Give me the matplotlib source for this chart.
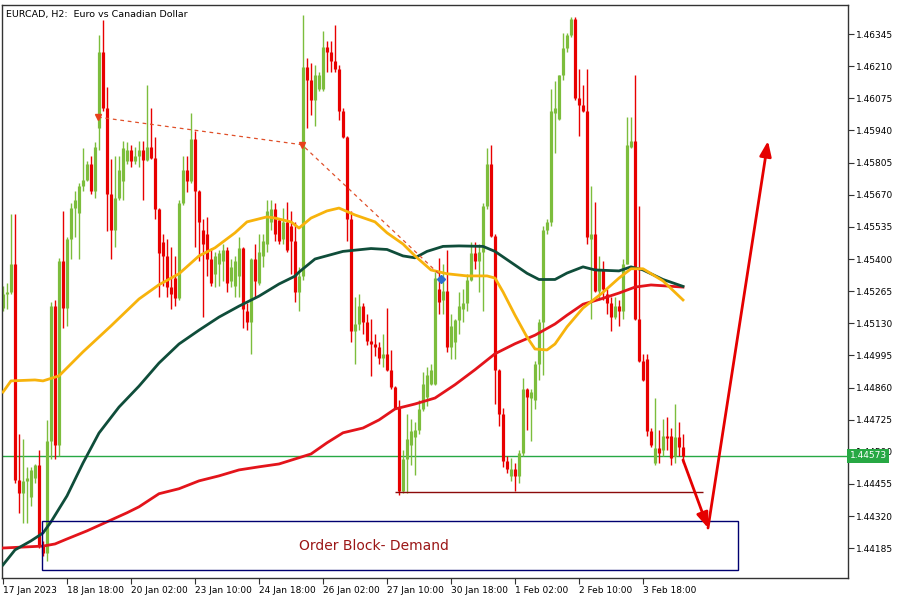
import matplotlib
matplotlib.use("Agg")
import matplotlib.pyplot as plt
import matplotlib.patches as mpatches

# EURCAD H2 candles (bar index 0..170)
opens = [
    1.45194, 1.45251, 1.45260, 1.45381, 1.44471, 1.44419, 1.44466, 1.44401, 1.44480, 1.44536,
    1.44200, 1.44163, 1.44634, 1.45204, 1.44620, 1.45391, 1.45194, 1.45484, 1.45615, 1.45592,
    1.45708, 1.45732, 1.45801, 1.45685, 1.45951, 1.46268, 1.46035, 1.45671, 1.45521, 1.45657,
    1.45727, 1.45811, 1.45858, 1.45811, 1.45834, 1.45858, 1.45816, 1.45872, 1.45825, 1.45611,
    1.45470, 1.45414, 1.45284, 1.45321, 1.45237, 1.45634, 1.45774, 1.45727, 1.45904, 1.45685,
    1.45521, 1.45507, 1.45400, 1.45335, 1.45381, 1.45391, 1.45437, 1.45307, 1.45288, 1.45330,
    1.45447, 1.45181, 1.45134, 1.45400, 1.45298, 1.45414, 1.45461, 1.45554, 1.45611, 1.45564,
    1.45484, 1.45554, 1.45540, 1.45474, 1.45260, 1.45330, 1.46208, 1.46152, 1.46068, 1.46115,
    1.46115, 1.46292, 1.46268, 1.46231, 1.46199, 1.46021, 1.45914, 1.45569, 1.45097, 1.45125,
    1.45204, 1.45134, 1.45055, 1.45045, 1.45031, 1.44985, 1.45003, 1.44933, 1.44863, 1.44774,
    1.44424, 1.44559, 1.44620, 1.44653, 1.44681, 1.44770, 1.44821, 1.44877, 1.44877, 1.45274,
    1.45227, 1.45265, 1.45031, 1.45050, 1.45143, 1.45190, 1.45214, 1.45311, 1.45424, 1.45391,
    1.45428, 1.45624, 1.45797, 1.45498, 1.44933, 1.44747, 1.44550, 1.44489, 1.44517, 1.44489,
    1.44583, 1.44854, 1.44817, 1.44807, 1.44957, 1.45134, 1.45521, 1.45554, 1.46012, 1.45988,
    1.46171, 1.46287, 1.46339, 1.46409, 1.46077, 1.46045, 1.46021, 1.45484, 1.45507, 1.45265,
    1.45353, 1.45251, 1.45214, 1.45158, 1.45204, 1.45181, 1.45381, 1.45872, 1.45895, 1.45148,
    1.44971, 1.44980, 1.44676, 1.44541, 1.44606, 1.44597, 1.44657, 1.44657, 1.44573, 1.44653,
    1.44611,
]
highs = [
    1.45288, 1.45298, 1.45587, 1.45587, 1.44667, 1.44644, 1.44527, 1.44527, 1.44540, 1.44597,
    1.44214, 1.44723, 1.45218, 1.45227, 1.45405, 1.45601, 1.45493, 1.45634, 1.45685, 1.45718,
    1.45867, 1.45811, 1.45834, 1.45890, 1.46339, 1.46404, 1.46124, 1.45820, 1.45834, 1.45834,
    1.45895, 1.45890, 1.45881, 1.45872, 1.45895, 1.45895, 1.46129, 1.46035, 1.45914, 1.45615,
    1.45507, 1.45484, 1.45451, 1.45414, 1.45648, 1.45834, 1.45834, 1.46012, 1.45937, 1.45690,
    1.45569, 1.45578, 1.45447, 1.45428, 1.45437, 1.45461, 1.45451, 1.45400, 1.45414, 1.45493,
    1.45451, 1.45214, 1.45405, 1.45461, 1.45507, 1.45507, 1.45648, 1.45648, 1.45634, 1.45569,
    1.45615, 1.45638, 1.45601, 1.45554, 1.45367, 1.46427, 1.46245, 1.46222, 1.46217, 1.46185,
    1.46357, 1.46315, 1.46315, 1.46381, 1.46217, 1.46035, 1.45918, 1.45601, 1.45241, 1.45251,
    1.45214, 1.45167, 1.45148, 1.45087, 1.45050, 1.45087, 1.45194, 1.45017, 1.44868, 1.44807,
    1.44597, 1.44751, 1.44728, 1.44714, 1.44807, 1.44924, 1.44947, 1.44961, 1.45344, 1.45405,
    1.45377, 1.45437, 1.45167, 1.45148, 1.45260, 1.45274, 1.45335, 1.45470, 1.45470, 1.45461,
    1.45634, 1.45867, 1.45881, 1.45507, 1.44940, 1.44774, 1.44573, 1.44564, 1.44541, 1.44597,
    1.44900, 1.44860, 1.44854, 1.44971, 1.45148, 1.45540, 1.45569, 1.46115, 1.46147, 1.46175,
    1.46348, 1.46348, 1.46418, 1.46418, 1.46199, 1.46129, 1.46199, 1.45708, 1.45638, 1.45414,
    1.45391, 1.45274, 1.45241, 1.45241, 1.45227, 1.45400, 1.45998, 1.45998, 1.46175, 1.45624,
    1.45003, 1.45003, 1.44690, 1.44817, 1.44681, 1.44728, 1.44737, 1.44690, 1.44793, 1.44714,
    1.44667,
]
lows = [
    1.45181, 1.45190, 1.45251, 1.44457, 1.44331, 1.44293, 1.44293, 1.44364, 1.44461, 1.44186,
    1.44153, 1.44130, 1.44559, 1.44559, 1.44573, 1.45111, 1.45120, 1.45400, 1.45493, 1.45400,
    1.45685, 1.45727, 1.45671, 1.45657, 1.45858, 1.46021, 1.45517, 1.45400, 1.45451, 1.45648,
    1.45648, 1.45801, 1.45788, 1.45801, 1.45788, 1.45648, 1.45811, 1.45820, 1.45569, 1.45241,
    1.45288, 1.45241, 1.45190, 1.45204, 1.45227, 1.45625, 1.45680, 1.45718, 1.45451, 1.45391,
    1.45158, 1.45330, 1.45288, 1.45284, 1.45288, 1.45307, 1.45260, 1.45284, 1.45241, 1.45241,
    1.45111, 1.45101, 1.45003, 1.45237, 1.45290, 1.45367, 1.45428, 1.45521, 1.45474, 1.45461,
    1.45461, 1.45428, 1.45335, 1.45218, 1.45181, 1.45311, 1.45951, 1.46007, 1.45960, 1.46105,
    1.46105, 1.46185, 1.46185, 1.46185, 1.45984, 1.45910, 1.45474, 1.45050, 1.44957, 1.45101,
    1.45087, 1.45040, 1.44910, 1.44994, 1.44957, 1.44947, 1.44930, 1.44854, 1.44770, 1.44410,
    1.44419, 1.44419, 1.44536, 1.44494, 1.44667, 1.44760, 1.44784, 1.44870, 1.44870, 1.45171,
    1.45171, 1.45008, 1.44980, 1.44980, 1.45087, 1.45134, 1.45181, 1.45307, 1.45358, 1.45260,
    1.45181, 1.45611, 1.45493, 1.44793, 1.44700, 1.44527, 1.44503, 1.44466, 1.44424, 1.44457,
    1.44573, 1.44681, 1.44634, 1.44770, 1.44891, 1.44914, 1.45507, 1.45540, 1.45844, 1.45984,
    1.46152, 1.46268, 1.46334, 1.46068, 1.45918, 1.46017, 1.45461, 1.45148, 1.45260, 1.45227,
    1.45227, 1.45167, 1.45097, 1.45148, 1.45120, 1.45148, 1.45377, 1.45865, 1.45143, 1.44967,
    1.44887, 1.44658, 1.44611, 1.44536, 1.44541, 1.44573, 1.44597, 1.44536, 1.44541, 1.44573,
    1.44541,
]
closes = [
    1.45251, 1.45260, 1.45381, 1.44471, 1.44419, 1.44466, 1.44480, 1.44513, 1.44536, 1.44200,
    1.44163, 1.44634, 1.45204, 1.44620, 1.45391, 1.45194, 1.45484, 1.45615, 1.45648, 1.45708,
    1.45732, 1.45801, 1.45685, 1.45872, 1.46268, 1.46035, 1.45671, 1.45521, 1.45657, 1.45774,
    1.45867, 1.45858, 1.45811, 1.45834, 1.45858, 1.45816, 1.45872, 1.45825, 1.45611, 1.45424,
    1.45414, 1.45284, 1.45251, 1.45237, 1.45634, 1.45774, 1.45727, 1.45904, 1.45685, 1.45554,
    1.45461, 1.45400, 1.45298, 1.45414, 1.45424, 1.45437, 1.45298, 1.45367, 1.45391, 1.45447,
    1.45190, 1.45134, 1.45400, 1.45307, 1.45428, 1.45474, 1.45601, 1.45611, 1.45507, 1.45474,
    1.45554, 1.45437, 1.45474, 1.45260, 1.45330, 1.46208, 1.46152, 1.46068, 1.46171, 1.46171,
    1.46292, 1.46268, 1.46231, 1.46199, 1.46021, 1.45914, 1.45569, 1.45097, 1.45125, 1.45204,
    1.45134, 1.45055, 1.45045, 1.45031, 1.44985, 1.45003, 1.44933, 1.44863, 1.44774, 1.44424,
    1.44559, 1.44644, 1.44676, 1.44681, 1.44770, 1.44877, 1.44914, 1.44933, 1.45321, 1.45218,
    1.45265, 1.45031, 1.45120, 1.45143, 1.45204, 1.45214, 1.45311, 1.45424, 1.45391, 1.45428,
    1.45624, 1.45797, 1.45498, 1.44933, 1.44747, 1.44550, 1.44517, 1.44517, 1.44489, 1.44583,
    1.44854, 1.44821, 1.44840, 1.44957, 1.45134, 1.45521, 1.45554, 1.46021, 1.46035, 1.46171,
    1.46287, 1.46339, 1.46409, 1.46077, 1.46045, 1.46021, 1.45493, 1.45507, 1.45265, 1.45358,
    1.45274, 1.45214, 1.45158, 1.45204, 1.45181, 1.45381, 1.45881, 1.45895, 1.45148, 1.44971,
    1.44891, 1.44676, 1.44620, 1.44606, 1.44587, 1.44657, 1.44648, 1.44564, 1.44653, 1.44611,
    1.44573,
]

# moving averages, read at sample bars
ma_fast_bars = [0, 2, 8, 10, 14, 20, 27, 34, 39, 44, 49, 53, 58, 61, 66, 68, 72, 74, 77, 81,
                84, 88, 93, 96, 100, 103, 107, 111, 116, 121, 123, 125, 128, 131, 133, 136,
                138, 141, 145, 150, 154, 157, 160, 165, 170]
ma_fast = [1.44841, 1.44888, 1.44892, 1.44888, 1.44909, 1.45010, 1.45119, 1.45232, 1.45292,
           1.45338, 1.45413, 1.45447, 1.45510, 1.45556, 1.45577, 1.45572, 1.45556, 1.45530,
           1.45572, 1.45602, 1.45614, 1.45585, 1.45556, 1.45510, 1.45463, 1.45413, 1.45354,
           1.45338, 1.45329, 1.45329, 1.45320, 1.45262, 1.45164, 1.45072, 1.45022, 1.45018,
           1.45043, 1.45115, 1.45194, 1.45260, 1.45320, 1.45359, 1.45359, 1.45308, 1.45228]

ma_mid_bars = [0, 3, 7, 10, 12, 16, 20, 24, 29, 34, 39, 44, 49, 54, 59, 64, 69, 73, 74, 78,
               85, 92, 96, 100, 103, 106, 110, 114, 120, 123, 127, 131, 134, 138, 141, 145,
               148, 154, 157, 160, 165, 170]
ma_mid = [1.44115, 1.44178, 1.44216, 1.44249, 1.44296, 1.44405, 1.44543, 1.44669, 1.44778,
          1.44866, 1.44963, 1.45043, 1.45101, 1.45156, 1.45202, 1.45244, 1.45295, 1.45328,
          1.45345, 1.45400, 1.45432, 1.45444, 1.45440, 1.45413, 1.45405, 1.45432, 1.45453,
          1.45455, 1.45453, 1.45432, 1.45386, 1.45340, 1.45314, 1.45314, 1.45341, 1.45367,
          1.45354, 1.45350, 1.45367, 1.45354, 1.45314, 1.45285]

ma_slow_bars = [0, 10, 13, 16, 21, 26, 31, 34, 39, 44, 49, 54, 59, 64, 69, 73, 77, 81, 85,
                90, 94, 98, 103, 108, 113, 118, 123, 128, 133, 138, 141, 145, 150, 154, 158,
                162, 170]
ma_slow = [1.44186, 1.44194, 1.44203, 1.44224, 1.44258, 1.44296, 1.44334, 1.44359, 1.44414,
           1.44435, 1.44468, 1.44489, 1.44514, 1.44527, 1.44539, 1.44560, 1.44581, 1.44628,
           1.44670, 1.44690, 1.44724, 1.44770, 1.44791, 1.44816, 1.44872, 1.44935, 1.45002,
           1.45044, 1.45080, 1.45127, 1.45164, 1.45210, 1.45235, 1.45257, 1.45282, 1.45291,
           1.45282]

# chart objects
trend_bars = [23.75, 74.75, 109.0]
trend_prices = [1.45996, 1.45880, 1.45337]
bid_price = 1.44573
support_price = 1.44421
support_bars = (98, 175)
ob_bars = (9.8, 183.75)
ob_prices = (1.44093, 1.44299)
arrow_pts = [(170, 1.44556), (176.25, 1.44270), (191.25, 1.45896)]

xtick_bars = [0, 16, 32, 48, 64, 80, 96, 112, 128, 144, 160]
xtick_labels = ["17 Jan 2023", "18 Jan 18:00", "20 Jan 02:00", "23 Jan 10:00",
                "24 Jan 18:00", "26 Jan 02:00", "27 Jan 10:00", "30 Jan 18:00",
                "1 Feb 02:00", "2 Feb 10:00", "3 Feb 18:00"]
ytick_prices = [1.44185, 1.44320, 1.44455, 1.44590, 1.44725, 1.44860, 1.44995, 1.45130,
                1.45265, 1.45400, 1.45535, 1.45670, 1.45805, 1.45940, 1.46075, 1.46210,
                1.46345]

BULL = "#7cbd3c"
BEAR = "#e80000"
FS = 6.5

fig = plt.figure(figsize=(9, 6), dpi=100)
ax = fig.add_axes([2 / 900, 22 / 600, 846 / 900, 573 / 600])
ax.set_xlim(-0.25, 211.25)
ax.set_ylim(1.44060, 1.46467)

# candles: thin wick plus 3px body
n = min(len(opens), len(highs), len(lows), len(closes))
for i in range(n):
    o, h, l, c = opens[i], highs[i], lows[i], closes[i]
    col = BULL if c >= o else BEAR
    ax.vlines(i, l, h, color=col, linewidth=1.0, zorder=2)
    top, bot = max(o, c), min(o, c)
    if top - bot < 0.00004:
        top = bot + 0.00004
    ax.vlines(i, bot, top, color=col, linewidth=2.3, zorder=2, capstyle="butt")

ax.plot(ma_slow_bars, ma_slow, color="#e3141b", linewidth=2, zorder=3)
ax.plot(ma_mid_bars, ma_mid, color="#0f4d3a", linewidth=2, zorder=3)
ax.plot(ma_fast_bars, ma_fast, color="#f7b30c", linewidth=2, zorder=3)

# bid line and support
ax.axhline(bid_price, color="#27a844", linewidth=1, zorder=1)
ax.hlines(support_price, support_bars[0], support_bars[1], color="#8b0a0a", linewidth=1, zorder=3)

# dashed trendline with markers
ax.plot(trend_bars, trend_prices, color="#e0502a", linewidth=0.9, linestyle=(0, (3, 3)), zorder=3)
ax.plot(trend_bars[:2], trend_prices[:2], linestyle="none", marker="v", markersize=5,
        color="#e8401a", zorder=4)
ax.plot(trend_bars[2] + 0.5, trend_prices[2] - 0.00020, linestyle="none", marker="D",
        markersize=4, color="#2a6fd0", zorder=4)

# order block
ax.add_patch(mpatches.Rectangle((ob_bars[0], ob_prices[0]), ob_bars[1] - ob_bars[0],
                                ob_prices[1] - ob_prices[0], fill=False,
                                edgecolor="#000070", linewidth=1, zorder=3))
ax.text((ob_bars[0] + ob_bars[1]) / 2 - 4, (ob_prices[0] + ob_prices[1]) / 2 - 0.00002,
        "Order Block- Demand", color="#9b1616", fontsize=10, ha="center", va="center")

# projection arrows
for a, b in zip(arrow_pts[:-1], arrow_pts[1:]):
    ax.annotate("", xy=b, xytext=a,
                arrowprops=dict(arrowstyle="-|>,head_length=0.9,head_width=0.35",
                                color="#e50000", linewidth=2, shrinkA=0, shrinkB=0),
                zorder=5)

ax.text(0.005, 0.992, "EURCAD, H2:  Euro vs Canadian Dollar", transform=ax.transAxes,
        fontsize=6.8, ha="left", va="top", color="black")

# axes styling
ax.yaxis.tick_right()
ax.set_yticks(ytick_prices)
ax.set_yticklabels([f"{p:.5f}" for p in ytick_prices])
ax.set_xticks(xtick_bars)
ax.set_xticklabels(xtick_labels)
for lbl in ax.get_xticklabels():
    lbl.set_horizontalalignment("left")
ax.tick_params(axis="both", labelsize=FS, length=4, width=0.8, color="#333333", pad=2)
for sp in ax.spines.values():
    sp.set_color("#333333")
    sp.set_linewidth(1)

ax.text(1.002, bid_price, "1.44573", transform=ax.get_yaxis_transform(), ha="left",
        va="center", fontsize=FS, color="white", zorder=6,
        bbox=dict(boxstyle="square,pad=0.25", fc="#27a844", ec="none"))

fig.savefig("out.png", dpi=100)
